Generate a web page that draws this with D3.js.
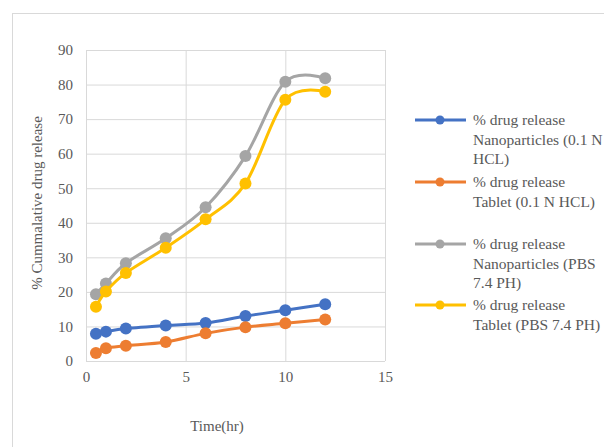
<!DOCTYPE html>
<html lang="en">
    <head>
        <meta charset="utf-8">
        <title>Drug release</title>
        <script type="text/javascript" src="https://cdn.jsdelivr.net/npm/d3@7"></script>
        <style type="text/css">
            body { margin: 0; background: #fff; }
            text { font-family: "Liberation Serif", "Times New Roman", serif; fill: #595959; }
            .axis path, .axis line { stroke: none; }
            .grid line { stroke: #d9d9d9; stroke-width: 1; }
            .grid path { stroke: none; }
        </style>
    </head>
    <body>
        <script type="text/javascript">

        //Width and height
        var w = 604;
        var h = 447;

        //Data
        var times = [0.5, 1, 2, 4, 6, 8, 10, 12];
        var nanoHcl = [7.9, 8.5, 9.4, 10.3, 11.0, 13.0, 14.7, 16.4];
        var tabletHcl = [2.3, 3.7, 4.4, 5.5, 8.0, 9.8, 10.9, 12.0];
        var nanoPbs = [19.3, 22.4, 28.3, 35.5, 44.5, 59.3, 80.8, 81.8];
        var tabletPbs = [15.7, 20.1, 25.5, 32.8, 41.0, 51.4, 75.6, 77.9];
        var xTicks = [0, 5, 10, 15];
        var yTicks = [0, 10, 20, 30, 40, 50, 60, 70, 80, 90];

        var series = [
            { values: nanoHcl, color: "#4472C4", label: ["% drug release", "Nanoparticles (0.1 N", "HCL)"] },
            { values: tabletHcl, color: "#ED7D31", label: ["% drug release", "Tablet (0.1 N HCL)"] },
            { values: nanoPbs, color: "#A5A5A5", label: ["% drug release", "Nanoparticles (PBS", "7.4 PH)"] },
            { values: tabletPbs, color: "#FFC000", label: ["% drug release", "Tablet (PBS 7.4 PH)"] }
        ];
        var legendY = [120, 182, 244, 305];

        var xScale = d3.scaleLinear().domain([0, 15]).range([86, 385]);
        var yScale = d3.scaleLinear().domain([0, 90]).range([361, 50]);

        var svg = d3.select("body")
            .append("svg")
            .attr("width", w)
            .attr("height", h);

        //outer frame, cut off at right and bottom
        svg.append("rect")
            .attr("x", 12.5).attr("y", 13.5)
            .attr("width", 700).attr("height", 600)
            .attr("fill", "none")
            .attr("stroke", "#d9d9d9");

        //grid
        svg.append("g")
            .attr("class", "grid")
            .attr("transform", "translate(86,0)")
            .call(d3.axisLeft(yScale).tickValues(yTicks).tickSize(-(385 - 86)).tickFormat(""));

        svg.append("g")
            .attr("class", "grid")
            .attr("transform", "translate(0,361)")
            .call(d3.axisBottom(xScale).tickValues(xTicks).tickSize(-(361 - 50)).tickFormat(""));

        //axes labels
        svg.append("g")
            .attr("class", "axis")
            .attr("transform", "translate(86,0)")
            .call(d3.axisLeft(yScale).tickValues(yTicks).tickSize(0).tickPadding(13))
            .selectAll("text")
            .style("font-size", "15px")
            .attr("fill", "#595959");

        svg.append("g")
            .attr("class", "axis")
            .attr("transform", "translate(0,361)")
            .call(d3.axisBottom(xScale).tickValues(xTicks).tickSize(0).tickPadding(10))
            .selectAll("text")
            .style("font-size", "15px")
            .attr("fill", "#595959");

        svg.selectAll(".axis .domain").remove();
        svg.selectAll(".grid .domain").remove();

        //axis titles
        svg.append("text")
            .attr("x", 217).attr("y", 431)
            .attr("text-anchor", "middle")
            .style("font-size", "15px")
            .text("Time(hr)");

        svg.append("text")
            .attr("transform", "translate(42,203) rotate(-90)")
            .attr("text-anchor", "middle")
            .style("font-size", "15px")
            .text("% Cummalative drug release");

        //lines
        var line = d3.line()
            .x(function(d, i){ return xScale(times[i]); })
            .y(function(d){ return yScale(d); })
            .curve(d3.curveCardinal.tension(0));

        series.forEach(function(s){
            svg.append("path")
                .datum(s.values)
                .attr("fill", "none")
                .attr("stroke", s.color)
                .attr("stroke-width", 3)
                .attr("d", line);

            svg.selectAll(null)
                .data(s.values)
                .enter()
                .append("circle")
                .attr("cx", function(d, i){ return xScale(times[i]); })
                .attr("cy", function(d){ return yScale(d); })
                .attr("r", 6)
                .attr("fill", s.color);
        });

        //legend
        series.forEach(function(s, k){
            var g = svg.append("g").attr("transform", "translate(0," + legendY[k] + ")");
            g.append("line")
                .attr("x1", 415).attr("x2", 466)
                .attr("stroke", s.color)
                .attr("stroke-width", 3);
            g.append("circle")
                .attr("cx", 440).attr("r", 4.5)
                .attr("fill", s.color);
            g.selectAll("text")
                .data(s.label)
                .enter()
                .append("text")
                .attr("x", 473)
                .attr("y", function(d, i){ return 5 + i * 19.5; })
                .style("font-size", "15.5px")
                .text(function(d){ return d; });
        });

        </script>
    </body>
</html>
